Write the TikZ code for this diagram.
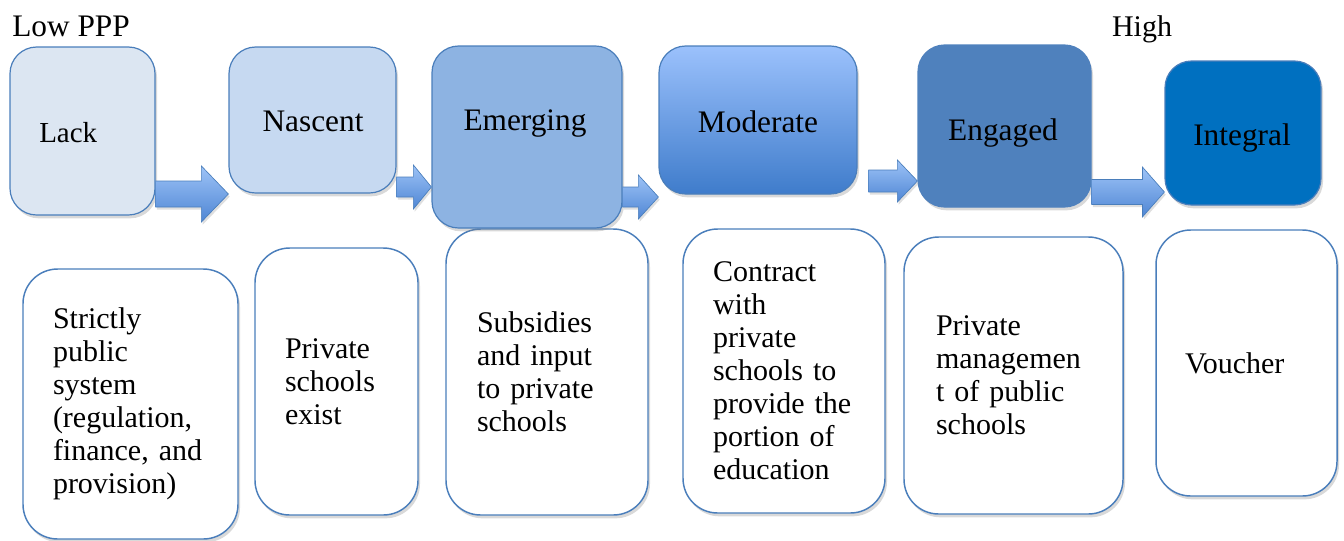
\documentclass[tikz,border=0pt]{standalone}
\usepackage{fontspec}
\setmainfont{Liberation Serif}
\usetikzlibrary{calc,shadows}

% Colours of the stages, light to dark
\definecolor{edgeblue}{HTML}{4A7EBB}
\definecolor{lackfill}{HTML}{DCE6F2}
\definecolor{nascentfill}{HTML}{C6D9F1}
\definecolor{emergingfill}{HTML}{8DB3E2}
\definecolor{moderatetop}{HTML}{9BC1FC}
\definecolor{moderatebot}{HTML}{3F7CCB}
\definecolor{engagedfill}{HTML}{4F81BD}
\definecolor{integralfill}{HTML}{0070C0}
\definecolor{arrowtop}{HTML}{9DC3F7}
\definecolor{arrowbot}{HTML}{4F86D4}
\definecolor{arrowedge}{HTML}{4A7EBB}

% Block arrow: from, to, y, body half, head half, head length
\newcommand{\flowarrow}[6]{%
  \path (#1 |- 0,#3) coordinate (fa-s)
        (#2 |- 0,#3) coordinate (fa-t);
  \path[flow] ($(fa-s)+(0,-#4)$) -- ($(fa-t)+(-#6,-#4)$) -- ($(fa-t)+(-#6,-#5)$)
    -- (fa-t) -- ($(fa-t)+(-#6,#5)$) -- ($(fa-t)+(-#6,#4)$) -- ($(fa-s)+(0,#4)$) -- cycle;
}

\begin{document}
\begin{tikzpicture}[%
    x=0.75pt, y=-0.75pt,          % Work in pixels of the sketch, top-down
    every node/.style={inner sep=0pt},
    ]
% -------------------------------------------------
% Box styles
\tikzset{
  stage/.style={draw=edgeblue, line width=0.9pt, rounded corners=20pt,
    drop shadow={shadow xshift=1.5pt, shadow yshift=-2.5pt, opacity=0.3}},
  detail/.style={draw=edgeblue, fill=white, line width=1.1pt, rounded corners=26pt,
    align=left, font=\fontsize{22.5}{24.75}\selectfont,
    drop shadow={shadow xshift=1.5pt, shadow yshift=-2.5pt, opacity=0.3}},
  flow/.style={draw=arrowedge, line width=0.5pt, top color=arrowtop, bottom color=arrowbot,
    drop shadow={shadow xshift=1pt, shadow yshift=-2pt, opacity=0.25}},
  tag/.style={anchor=base, font=\fontsize{23.5}{28}\selectfont},
}
\useasboundingbox (0,0) rectangle (1344,540);
% -------------------------------------------------
% Ends of the scale
\node[tag, anchor=base west] (low) at (12,36) {Low PPP};
\node[tag, font=\fontsize{22.5}{27}\selectfont] (high) at (1142,36) {High};
% -------------------------------------------------
% Lower row: what each stage means
\node[detail, minimum width=161.25pt, minimum height=202.5pt, text width=116.25pt]
  (lack-d) at (130.5,404) {Strictly\\public\\system\\(regulation,\\finance, and\\provision)};
\node[detail, minimum width=122.25pt, minimum height=200.25pt, text width=77.25pt]
  (nascent-d) at (336.5,381.5) {Private\\schools\\exist};
\node[detail, minimum width=151.5pt, minimum height=214.5pt, text width=105pt]
  (emerging-d) at (547,372) {Subsidies\\and input\\to private\\schools};
\node[detail, minimum width=151.5pt, minimum height=213pt, text width=106.5pt]
  (moderate-d) at (784,371) {Contract\\with\\private\\schools to\\provide the\\portion of\\education};
\node[detail, minimum width=164.25pt, minimum height=207.75pt, text width=116.25pt]
  (engaged-d) at (1013.5,375.5) {Private\\managemen\\t of public\\schools};
\node[detail, minimum width=135.75pt, minimum height=199.5pt, text width=92.25pt]
  (integral-d) at (1246.5,363) {Voucher};
% -------------------------------------------------
% Upper row: the stages, then their names on the baseline
\node[stage, fill=lackfill, minimum width=108.75pt, minimum height=126pt] (lack) at (82.5,131) {};
\node[stage, fill=nascentfill, minimum width=125.25pt, minimum height=109.5pt] (nascent) at (312.5,120) {};
\node[stage, fill=emergingfill, minimum width=142.5pt, minimum height=136.5pt] (emerging) at (527,137) {};
\node[stage, top color=moderatetop, bottom color=moderatebot,
  minimum width=148.5pt, minimum height=111pt] (moderate) at (758,120) {};
\node[stage, fill=engagedfill, draw=engagedfill, minimum width=129.75pt, minimum height=121.5pt]
  (engaged) at (1004.5,126) {};
\node[stage, fill=integralfill, minimum width=117pt, minimum height=108pt] (integral) at (1243,133) {};

\node[tag, anchor=base west, font=\fontsize{21.75}{26}\selectfont] (lack-t) at (39,142) {Lack};
\node[tag] (nascent-t) at (313,131) {Nascent};
\node[tag] (emerging-t) at (525,130) {Emerging};
\node[tag] (moderate-t) at (758,132) {Moderate};
\node[tag] (engaged-t) at (1003,140) {Engaged};
\node[tag] (integral-t) at (1242,145) {Integral};
% -------------------------------------------------
% Block arrows between the stages
\coordinate (moderate-out) at ([xshift=8.25pt]moderate.east);
\flowarrow{lack.east}{nascent.west}{194}{13}{28}{27}
\flowarrow{nascent.east}{emerging.west}{187}{10}{22}{18}
\flowarrow{emerging.east}{moderate.west}{197}{10}{22}{20}
\flowarrow{moderate-out}{engaged.west}{181}{11}{21}{20}
\flowarrow{engaged.east}{integral.west}{192}{12.5}{25}{22}
% -------------------------------------------------
\end{tikzpicture}
\end{document}
